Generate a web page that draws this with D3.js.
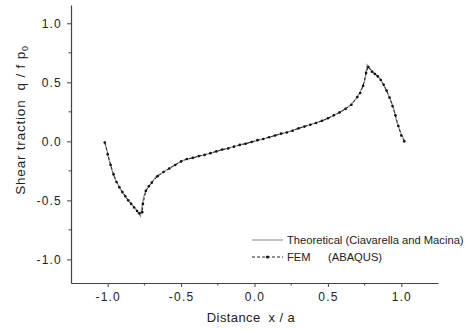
<!DOCTYPE html>
<html>
<head>
<meta charset="utf-8">
<script src="https://cdn.jsdelivr.net/npm/d3@7"></script>
<style>
  body { margin: 0; background: #fff; }
  text { font-family: "Liberation Sans", Arial, sans-serif; fill: #222; white-space: pre; }
</style>
</head>
<body>
<div id="chart"></div>
<script>
// Theoretical solution (Ciavarella and Macina)
const theoX = [-1.02, -1.00, -0.99, -0.97, -0.946, -0.91, -0.878, -0.84, -0.81, -0.776, -0.768, -0.755, -0.74, -0.70, -0.673, -0.62, -0.583, -0.53, -0.474, -0.40, -0.30, -0.20, -0.10, 0.0, 0.10, 0.20, 0.30, 0.40, 0.474, 0.54, 0.60, 0.653, 0.69, 0.72, 0.745, 0.755, 0.762, 0.767, 0.80, 0.857, 0.89, 0.925, 0.95, 0.97, 1.00, 1.025];
const theoQ = [0.0, -0.10, -0.16, -0.25, -0.33, -0.41, -0.47, -0.53, -0.57, -0.635, -0.56, -0.47, -0.415, -0.35, -0.30, -0.26, -0.23, -0.19, -0.155, -0.135, -0.10, -0.065, -0.03, 0.0, 0.035, 0.07, 0.11, 0.15, 0.18, 0.22, 0.26, 0.305, 0.36, 0.42, 0.49, 0.53, 0.60, 0.65, 0.60, 0.53, 0.45, 0.36, 0.27, 0.16, 0.06, 0.0];

// FEM (ABAQUS)
const femX = [-1.02, -1.00, -0.98, -0.96, -0.94, -0.92, -0.90, -0.88, -0.86, -0.84, -0.82, -0.80, -0.785, -0.765, -0.76, -0.74, -0.72, -0.70, -0.66, -0.62, -0.58, -0.54, -0.50, -0.46, -0.42, -0.38, -0.34, -0.30, -0.26, -0.22, -0.18, -0.14, -0.10, -0.06, -0.02, 0.02, 0.06, 0.10, 0.14, 0.18, 0.22, 0.26, 0.30, 0.34, 0.38, 0.42, 0.46, 0.50, 0.54, 0.58, 0.62, 0.66, 0.70, 0.72, 0.74, 0.76, 0.775, 0.80, 0.82, 0.84, 0.86, 0.88, 0.90, 0.92, 0.94, 0.96, 0.98, 1.00, 1.02];
const femQ = [-0.01, -0.11, -0.20, -0.28, -0.345, -0.39, -0.43, -0.465, -0.50, -0.53, -0.56, -0.59, -0.61, -0.60, -0.53, -0.42, -0.38, -0.35, -0.295, -0.26, -0.23, -0.20, -0.17, -0.15, -0.14, -0.125, -0.115, -0.10, -0.085, -0.07, -0.06, -0.045, -0.03, -0.02, -0.005, 0.01, 0.02, 0.035, 0.05, 0.065, 0.075, 0.09, 0.11, 0.125, 0.14, 0.155, 0.175, 0.195, 0.22, 0.245, 0.275, 0.31, 0.375, 0.41, 0.47, 0.58, 0.63, 0.59, 0.57, 0.55, 0.52, 0.48, 0.43, 0.37, 0.30, 0.22, 0.13, 0.05, 0.0];

const xTicks = [-1.0, -0.5, 0.0, 0.5, 1.0];
const yTicks = [-1.0, -0.5, 0.0, 0.5, 1.0];
const xMinor = [-0.75, -0.25, 0.25, 0.75];
const yMinor = [-0.75, -0.25, 0.25, 0.75];

const W = 471, H = 333;
const svg = d3.select("#chart").append("svg")
    .attr("width", W).attr("height", H);

const x = d3.scaleLinear().domain([-1.25, 1.25]).range([71, 438]);
const y = d3.scaleLinear().domain([-1.2, 1.155]).range([283, 5]);

const axisColor = "#444";
const fmt = d => d3.format(".1f")(d).replace("\u2212", "-");

// Axes
const gx = svg.append("g")
    .attr("transform", `translate(0,${y(-1.2)})`)
    .call(d3.axisBottom(x).tickValues(xTicks).tickFormat(fmt)
        .tickSizeInner(4).tickSizeOuter(0).tickPadding(5));
gx.append("g").selectAll("line").data(xMinor).join("line")
    .attr("x1", d => x(d)).attr("x2", d => x(d))
    .attr("y1", 0).attr("y2", 2.5);

const gy = svg.append("g")
    .attr("transform", `translate(${x(-1.25)},0)`)
    .call(d3.axisLeft(y).tickValues(yTicks).tickFormat(fmt)
        .tickSizeInner(4).tickSizeOuter(0).tickPadding(5));
gy.append("g").selectAll("line").data(yMinor).join("line")
    .attr("y1", d => y(d)).attr("y2", d => y(d))
    .attr("x1", 0).attr("x2", -2.5);

[gx, gy].forEach(g => {
    g.selectAll("path.domain").attr("stroke", axisColor).attr("stroke-width", 1.2);
    g.selectAll("line").attr("stroke", axisColor).attr("stroke-width", 1);
    g.selectAll("text").style("font-size", "12px")
        .style("letter-spacing", "1.2px")
        .style("font-family", "'Liberation Sans', Arial, sans-serif").attr("fill", "#222");
});

// Theoretical line
const theo = theoX.map((v, i) => ({ x: v, q: theoQ[i] }));
const fem = femX.map((v, i) => ({ x: v, q: femQ[i] }));
const line = d3.line().x(d => x(d.x)).y(d => y(d.q));

svg.append("path")
    .attr("d", line(theo))
    .attr("fill", "none")
    .attr("stroke", "#999")
    .attr("stroke-width", 1.2);

svg.append("path")
    .attr("d", line(fem))
    .attr("fill", "none")
    .attr("stroke", "#222")
    .attr("stroke-width", 1)
    .attr("stroke-dasharray", "3,2");

svg.append("g").selectAll("circle").data(fem).join("circle")
    .attr("cx", d => x(d.x)).attr("cy", d => y(d.q))
    .attr("r", 1.3).attr("fill", "#111");

// Axis titles
svg.append("text")
    .attr("x", 251).attr("y", 322)
    .attr("text-anchor", "middle")
    .style("font-size", "13px")
    .style("letter-spacing", "0.4px")
    .text("Distance  x / a");

const yt = svg.append("text")
    .attr("transform", "translate(25,120) rotate(-90)")
    .attr("text-anchor", "middle")
    .style("font-size", "13.5px")
    .style("letter-spacing", "0.8px");
yt.append("tspan").text("Shear traction  q / f p");
yt.append("tspan").attr("dy", 3).style("font-size", "9px").text("0");

// Legend
const lg = svg.append("g");
lg.append("line")
    .attr("x1", 252).attr("x2", 283).attr("y1", 240).attr("y2", 240)
    .attr("stroke", "#999").attr("stroke-width", 1.2);
lg.append("text").attr("x", 287).attr("y", 244)
    .style("font-size", "11.2px")
    .text("Theoretical (Ciavarella and Macina)");
lg.append("line")
    .attr("x1", 252).attr("x2", 283).attr("y1", 257).attr("y2", 257)
    .attr("stroke", "#222").attr("stroke-width", 1).attr("stroke-dasharray", "3,2");
lg.append("circle").attr("cx", 267.5).attr("cy", 257).attr("r", 1.6).attr("fill", "#111");
lg.append("text").attr("x", 287).attr("y", 261)
    .style("font-size", "11.2px").text("FEM");
lg.append("text").attr("x", 328).attr("y", 261)
    .style("font-size", "11.2px").text("(ABAQUS)");
</script>
</body>
</html>
